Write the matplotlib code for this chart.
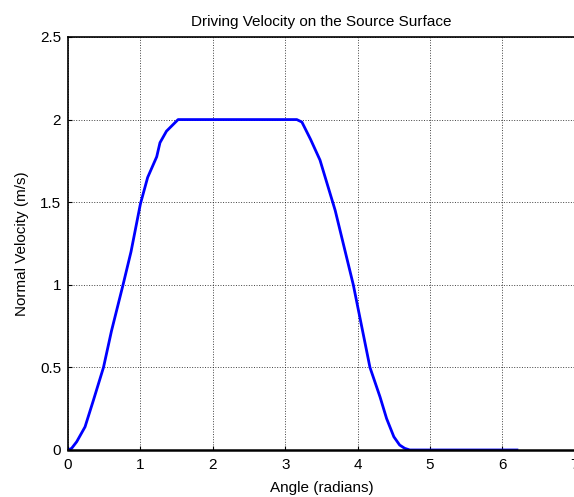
import numpy as np
import matplotlib.pyplot as plt

plt.rcParams['font.family'] = ['Liberation Sans', 'DejaVu Sans']

# normal velocity profile along the source surface
angle = [0.0, 0.05, 0.12, 0.235, 0.35, 0.49, 0.60, 0.76, 0.87, 1.0, 1.1,
         1.225, 1.27, 1.36, 1.52, 3.16, 3.23, 3.35, 3.48, 3.69, 3.94, 4.17,
         4.31, 4.40, 4.50, 4.58, 4.65, 4.72, 6.2]
velocity = [0.0, 0.01, 0.05, 0.14, 0.30, 0.50, 0.72, 1.0, 1.2, 1.49, 1.65,
            1.775, 1.86, 1.93, 2.0, 2.0, 1.985, 1.88, 1.755, 1.45, 1.0, 0.5,
            0.32, 0.19, 0.08, 0.03, 0.01, 0.0, 0.0]

xticks = [0, 1, 2, 3, 4, 5, 6, 7]
yticks = [0, 0.5, 1, 1.5, 2, 2.5]

fig = plt.figure(figsize=(5.74, 4.97), dpi=100)
ax = fig.add_axes([0.1185, 0.0946, 0.8830, 0.831])

ax.plot(angle, velocity, color='#0000ff', lw=2)

ax.set_xlim(0, 7)
ax.set_ylim(0, 2.5)
ax.set_xticks(xticks)
ax.set_yticks(yticks)
ax.set_yticklabels(['0', '0.5', '1', '1.5', '2', '2.5'])
ax.grid(True, color='black', linestyle=':', linewidth=0.7, alpha=0.75)
ax.tick_params(direction='in', length=3, labelsize=11, colors='black')
ax.tick_params(axis='x', pad=6)
ax.tick_params(axis='y', pad=5)
for s in ax.spines.values():
    s.set_linewidth(1.2)
ax.spines['bottom'].set_linewidth(1.8)

ax.set_title('Driving Velocity on the Source Surface', fontsize=11, pad=8)
ax.set_xlabel('Angle (radians)', fontsize=11, labelpad=6)
ax.set_ylabel('Normal Velocity (m/s)', fontsize=11, labelpad=8)

fig.savefig('out.png', dpi=100)
